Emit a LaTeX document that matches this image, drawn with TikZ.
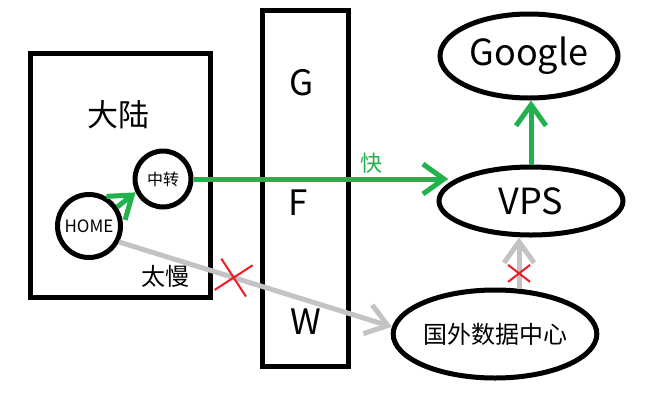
\documentclass[tikz,border=0pt]{standalone}
\usepackage{fontspec}
\setmainfont{Noto Sans CJK SC}
\usetikzlibrary{shapes.geometric,shapes.misc,arrows.meta}
\definecolor{pgreen}{HTML}{22B14C}
\definecolor{pgray}{HTML}{C3C3C3}
\definecolor{pred}{HTML}{ED1C24}
\begin{document}
\begin{tikzpicture}[x=1pt,y=-1pt,line width=5pt,
  box/.style={draw,inner sep=0pt},
  ring/.style={circle,draw,inner sep=0pt},
  oval/.style={ellipse,draw,inner sep=0pt},
  tip/.style={-{Straight Barb[length=21pt,width=30pt]}},
  fast/.style={pgreen,tip},
  slow/.style={pgray,tip},
  nogo/.style={cross out,draw=pred,line width=2pt,inner sep=0pt}]
\useasboundingbox (0,0) rectangle (661,400);
\node [box,minimum width=180pt,minimum height=244pt] (cn) at (120,175) {};
\node [font=\fontsize{31}{31}\selectfont] (cnt) at (118,115) {大陆};
\node [font=\fontsize{24}{24}\selectfont] (slowt) at (165,276) {太慢};
\node [box,minimum width=86pt,minimum height=356pt] (gfw) at (305,188) {};
\node [font=\fontsize{35}{35}\selectfont] (g) at (302,83) {G};
\node [font=\fontsize{35}{35}\selectfont] (f) at (298,203) {F};
\node [font=\fontsize{35}{35}\selectfont] (w) at (306,322) {W};
\node [ring,minimum size=56pt,font=\fontsize{16}{16}\selectfont] (relay) at (163,179) {中转};
\node [ring,minimum size=63pt,font=\fontsize{17}{17}\selectfont] (home) at (89,226) {HOME};
\node [oval,minimum width=184pt,minimum height=68pt,font=\fontsize{36}{36}\selectfont] (vps) at (531,201) {VPS};
\node [oval,minimum width=178pt,minimum height=84pt,font=\fontsize{36}{36}\selectfont] (ggl) at (529,56) {Google};
\node [oval,minimum width=188pt,minimum height=88pt,font=\fontsize{24}{24}\selectfont] (dc) at (495,334) {国外数据中心};

\draw [fast] (home.34) -- (relay.206);
\draw [fast] (relay.east) -- (relay.east -| vps.168)
  node [pos=0.70,above,font=\fontsize{22}{22}\selectfont] (fastt) {快};
\draw [fast] (vps.north) -- (vps.north |- ggl.south);
\draw [slow] (home.-28) -- (dc.176) coordinate [pos=0.42] (x1);
\draw [slow] (dc.62) -- (dc.62 |- vps.south) coordinate [pos=0.3] (x2);
\node [nogo,minimum size=30pt,rotate=-12] (cross1) at (x1) {};
\node [nogo,minimum width=20pt,minimum height=15pt] (cross2) at (x2) {};
\end{tikzpicture}
\end{document}
